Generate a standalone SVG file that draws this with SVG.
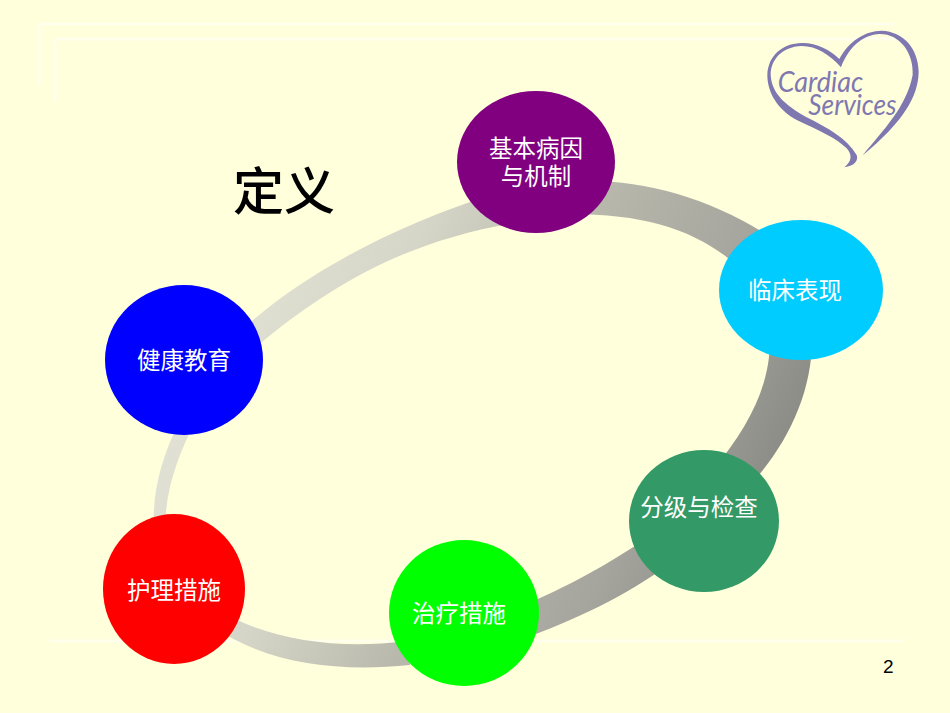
<svg xmlns="http://www.w3.org/2000/svg" width="950" height="713" viewBox="0 0 950 713">
<style>
.guide{fill:none;stroke:#ffffeb;stroke-width:3}
.t{font-family:"Noto Sans CJK SC","Liberation Sans",sans-serif;font-size:23.5px;fill:#fff;text-anchor:middle}
.logo{font-family:Lato,"Liberation Sans",sans-serif;font-style:italic;font-weight:400;fill:#7f78b0;font-size:86px}
.seg{fill:url(#ring)}
</style>
<defs>
<linearGradient id="ring" gradientUnits="userSpaceOnUse" x1="170" y1="300" x2="790" y2="570">
<stop offset="0" stop-color="#e4e4d8"/>
<stop offset="0.3" stop-color="#d6d6c8"/>
<stop offset="0.52" stop-color="#b8b8ac"/>
<stop offset="0.75" stop-color="#a5a59e"/>
<stop offset="0.9" stop-color="#8f8f8a"/>
<stop offset="1" stop-color="#858580"/>
</linearGradient>
</defs>
<rect width="950" height="713" fill="#ffffdc"/>
<g id="guides">
<path class="guide" d="M39 86V26Q39 24 41 24H893"/>
<path class="guide" d="M55 102V41Q55 39 57 39H906"/>
<path class="guide" d="M50 641H903"/>
</g>
<g id="connectors">
<path class="seg" d="M245 327C300 278 385 228 500 192L520 222C420 238 340 275 250 352Z"/>
<path class="seg" d="M590 181C650 181 715 200 775 240L740 268C700 232 650 214 570 214Z"/>
<path class="seg" d="M812 340C812 395 785 450 745 490L715 468C745 430 770 390 770 340Z"/>
<path class="seg" d="M650 536C610 563 570 586 515 609L515 642C580 618 625 596 668 565Z"/>
<path class="seg" d="M410 665C340 672 270 665 215 628L222 612C270 640 340 650 405 641Z"/>
<path class="seg" d="M154 530C152 495 160 460 180 420L196 420C178 455 165 490 165 530Z"/>
</g>
<g id="logo">
<g transform="translate(740 10) scale(.3333)">
<path fill="#7f78b0" d="M298 147C325 95 375 62 425 62C490 65 535 115 536 185C535 260 490 335 368 436C430 360 500 290 518 195C522 130 480 72 420 72C365 74 325 115 303 172C270 135 230 108 185 108C125 110 92 150 92 195C95 250 135 285 200 322C265 355 320 385 350 435C356 450 345 468 313 472C335 455 338 435 320 415C290 385 235 360 170 330C115 300 82 250 82 195C84 135 130 100 185 99C230 98 270 120 298 147Z"/>
<text class="logo" x="113" y="247" textLength="257" lengthAdjust="spacingAndGlyphs">Cardiac</text>
<text class="logo" x="205" y="315" textLength="265" lengthAdjust="spacingAndGlyphs">Services</text>
</g>
</g>
<text x="233" y="210" font-family="'Noto Sans CJK SC',sans-serif" font-size="51" font-weight="500" fill="#000">定义</text>
<g id="node-jiben"><ellipse cx="536" cy="162" rx="79" ry="71" fill="#800080"/><text class="t" x="536" y="157">基本病因</text><text class="t" x="536" y="185">与机制</text></g>
<g id="node-linchuang"><ellipse cx="801" cy="290" rx="82" ry="70" fill="#00ccff"/><text class="t" x="795" y="299">临床表现</text></g>
<g id="node-fenji"><ellipse cx="704" cy="521" rx="75" ry="71" fill="#339966"/><text class="t" x="699" y="516">分级与检查</text></g>
<g id="node-zhiliao"><ellipse cx="464" cy="613" rx="75" ry="73" fill="#00ff00"/><text class="t" x="459" y="622">治疗措施</text></g>
<g id="node-huli"><ellipse cx="174" cy="589" rx="71" ry="75" fill="#ff0000"/><text class="t" x="174" y="599">护理措施</text></g>
<g id="node-jiankang"><ellipse cx="184" cy="360" rx="79" ry="75" fill="#0000ff"/><text class="t" x="184" y="369">健康教育</text></g>
<text x="883" y="673" font-family="'Liberation Sans',sans-serif" font-size="19" fill="#000">2</text>
</svg>
